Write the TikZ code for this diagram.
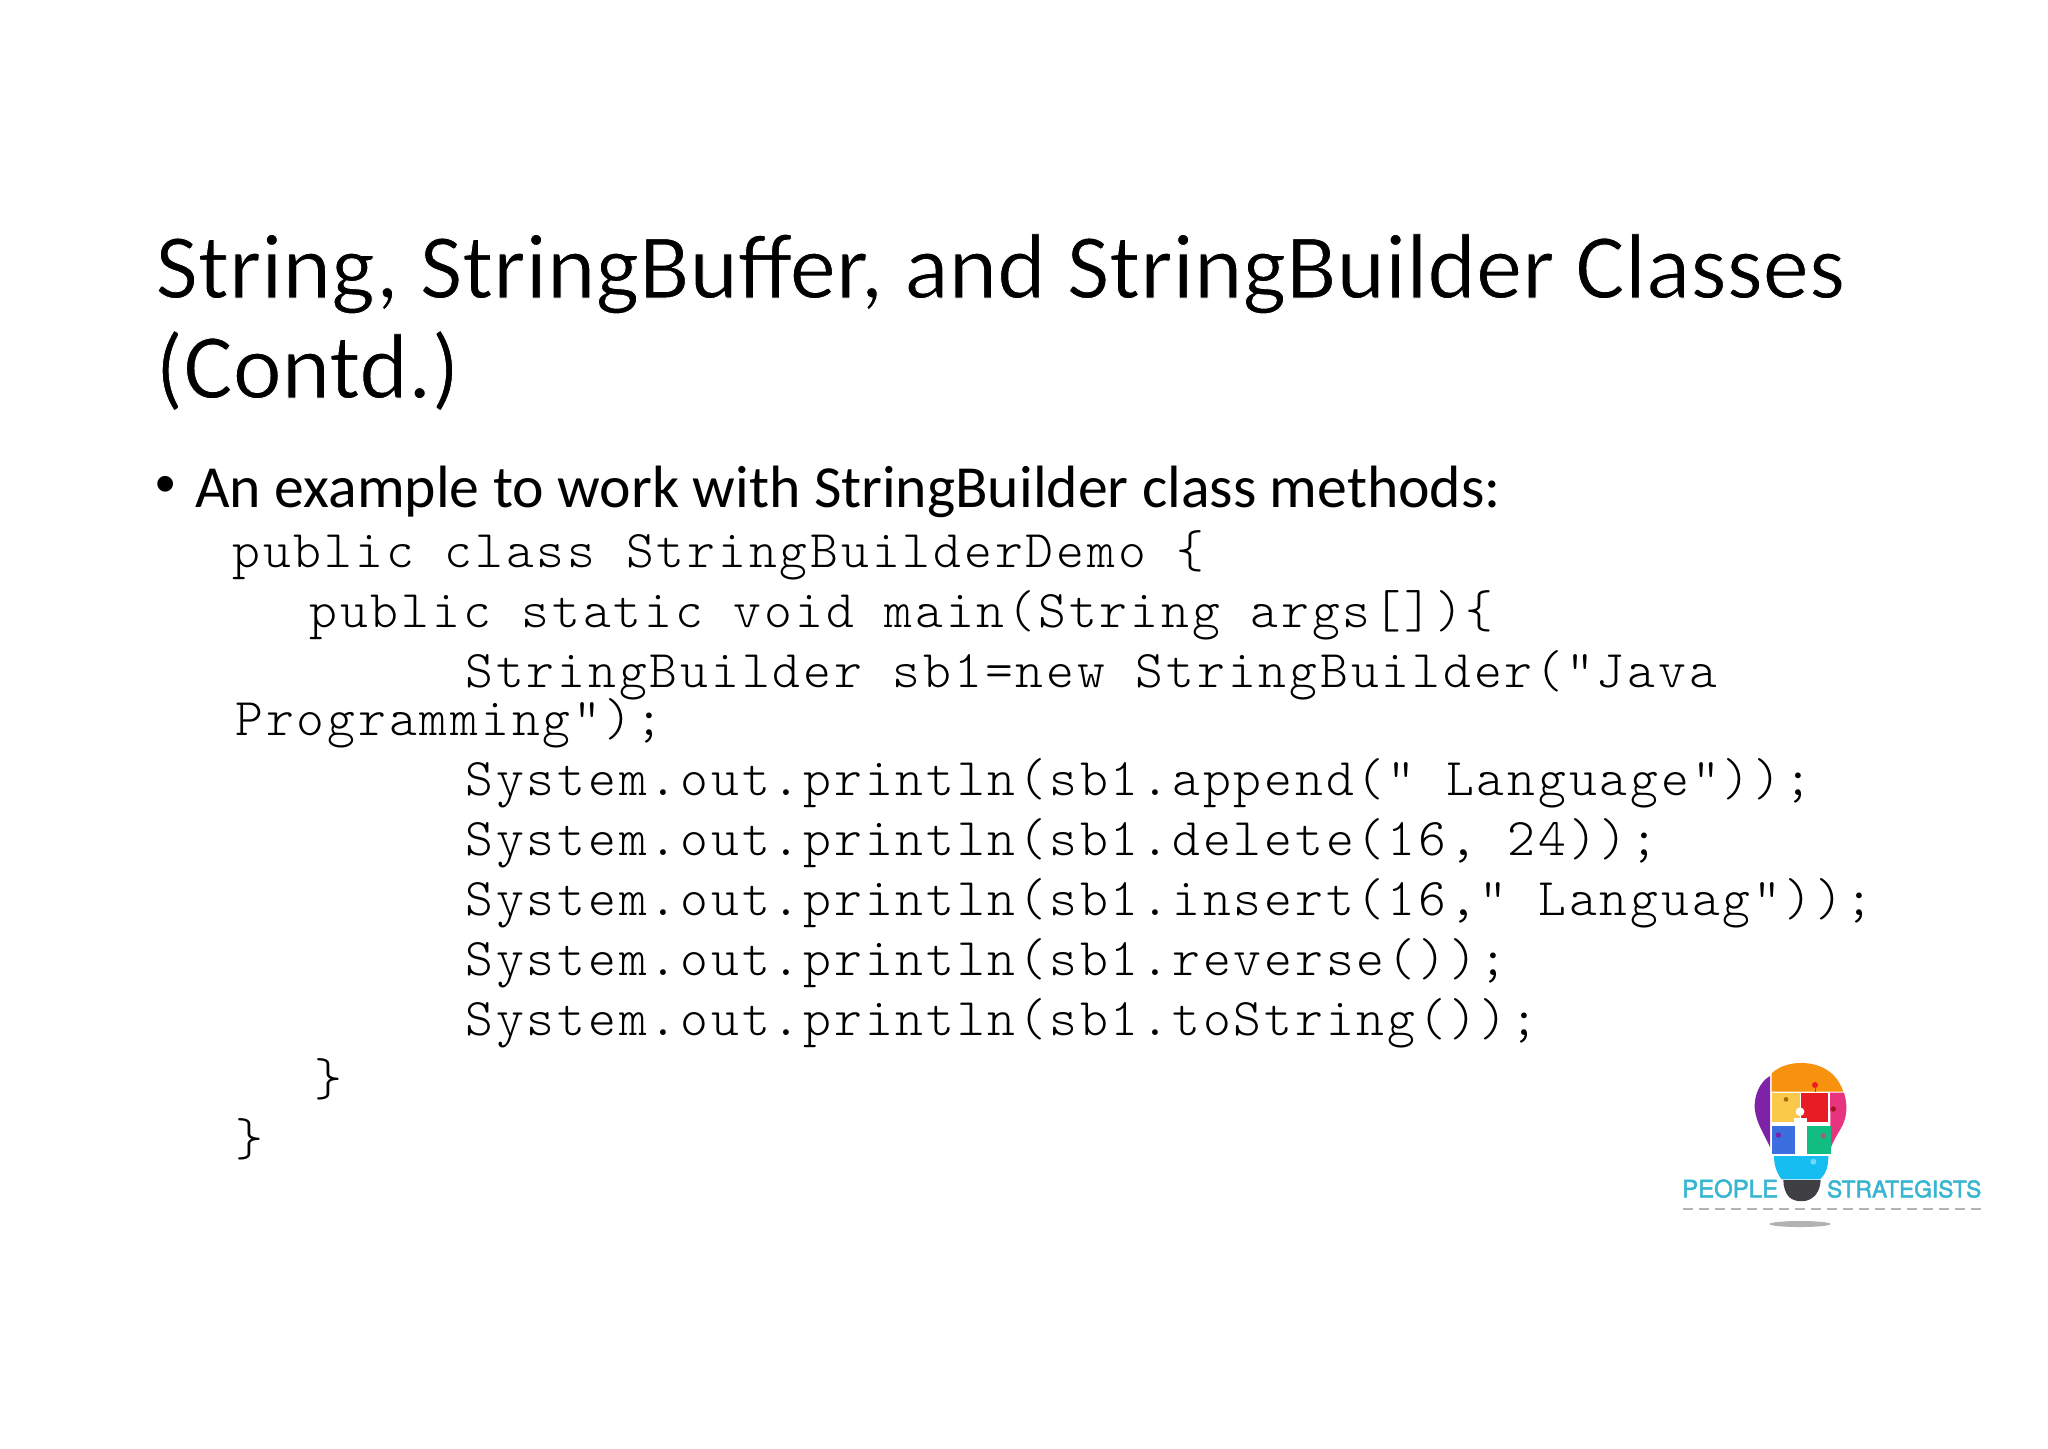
\documentclass[tikz,border=0pt]{standalone}
\usepackage{fontspec}
\setmainfont{Carlito}
\setmonofont[LetterSpace=5.5]{Latin Modern Mono Light}
\setsansfont{TeX Gyre Heros}
\newfontfamily\bulletfont{Liberation Sans}
\newcommand{\thinglyphs}{\special{pdf:code 2 Tr .45 w 1 1 1 RG}}
\newcommand{\logoglyphs}{\special{pdf:code 2 Tr .25 w .22 .71 .82 RG}}
\definecolor{logotext}{HTML}{38B6D0}
\definecolor{bulborange}{HTML}{F7920F}
\definecolor{bulbpurple}{HTML}{7E22A8}
\definecolor{bulbpink}{HTML}{E8347F}
\definecolor{bulbyellow}{HTML}{FBC94A}
\definecolor{bulbred}{HTML}{E81C24}
\definecolor{bulbblue}{HTML}{3B6FE0}
\definecolor{bulbgreen}{HTML}{12BD82}
\definecolor{bulbcyan}{HTML}{16BDF0}
\definecolor{bulbbase}{HTML}{3F3F44}
\tikzset{
    titleline/.style={anchor=base west,inner sep=0pt,font=\fontsize{46.3}{56}\selectfont},
    bodyline/.style={anchor=base west,inner sep=0pt,font=\fontsize{29.87}{36}\selectfont},
    codeline/.style={anchor=base west,inner sep=0pt,text=black,font=\ttfamily\fontsize{26.5}{30}\selectfont},
    logoword/.style={anchor=base west,inner sep=0pt,text=logotext,font=\sffamily\fontsize{12}{14}\selectfont},
    knob/.style={line width=.5pt}
}

\begin{document}
\begin{tikzpicture}[x=.5pt,y=-.5pt]
    \useasboundingbox (0,0) rectangle (2048,1448);
    % title
    \node[titleline] (title1) at (155,298) {\thinglyphs String, StringBuffer, and StringBuilder Classes};
    \node[titleline] (title2) at (155,398) {\thinglyphs (Contd.)};
    % bullet
    \node[bodyline,font=\bulletfont\fontsize{29}{30}\selectfont] (dot) at (155,503) {•};
    \node[bodyline] (intro) at (195,507) {An example to work with StringBuilder class methods:};
    % code
    \node[codeline] (code1) at (232,567) {public class StringBuilderDemo \{};
    \node[codeline] (code2) at (309,627) {public static void main(String args[])\{};
    \node[codeline] (code3) at (465,687) {StringBuilder sb1=new StringBuilder("Java};
    \node[codeline] (code4) at (235,735) {Programming");};
    \node[codeline] (code5) at (465,795) {System.out.println(sb1.append(" Language"));};
    \node[codeline] (code6) at (465,855) {System.out.println(sb1.delete(16, 24));};
    \node[codeline] (code7) at (465,915) {System.out.println(sb1.insert(16," Languag"));};
    \node[codeline] (code8) at (465,975) {System.out.println(sb1.reverse());};
    \node[codeline] (code9) at (465,1035) {System.out.println(sb1.toString());};
    \node[codeline] (close1) at (314,1095) {\}};
    \node[codeline] (close2) at (235,1155) {\}};
    % logo
    \begin{scope}[shift={(1660,1040)},scale=1/3]
        \fill[bulbpurple] (330,108) .. controls (300,125) and (282,165) .. (284,205) .. controls (288,250) and (315,285) .. (330,322) -- cycle;
        \fill[bulbpink] (510,158) -- (552,158) .. controls (562,190) and (562,225) .. (548,255) .. controls (535,280) and (520,300) .. (512,325) -- cycle;
        \fill[bulborange] (335,155) -- (335,100) .. controls (375,60) and (470,55) .. (520,105) .. controls (535,120) and (545,140) .. (550,155) -- cycle;
        \fill[bulbyellow] (335,158) rectangle (420,246);
        \fill[bulbred] (423,160) rectangle (505,247);
        \fill[bulbblue] (335,258) rectangle (405,342);
        \fill[bulbgreen] (440,258) rectangle (512,342);
        \fill[bulbcyan] (342,348) -- (505,348) .. controls (505,375) and (500,400) .. (480,418) -- (365,418) .. controls (350,400) and (342,375) .. (342,348) -- cycle;
        \fill[bulbbase] (370,420) -- (482,420) .. controls (480,445) and (472,465) .. (455,475) .. controls (435,488) and (405,486) .. (388,472) .. controls (376,460) and (370,440) .. (370,420) -- cycle;
        % puzzle knobs and the figure
        \fill[white] (420,215) circle (13);
        \fill[white] (403,233) rectangle (440,258);
        \fill[white] (407,258) rectangle (437,342);
        \fill[bulbred] (465,135) circle (9);
        \draw[bulborange!60!black,knob] (465,155) -- (465,135);
        \fill[bulbred!70!black] (520,207) circle (8);
        \fill[bulbpurple] (355,285) circle (8);
        \fill[bulbpink!70!bulbgreen] (490,287) circle (8);
        \fill[bulbcyan!60!white] (460,365) circle (9);
        \fill[bulborange!70!black] (378,178) circle (7);
        % wordmark
        \node[logoword] (people) at (65,472) {\logoglyphs PEOPLE};
        \node[logoword,font=\sffamily\fontsize{11.4}{14}\selectfont] (strategists) at (500,472) {\logoglyphs STRATEGISTS};
        \draw[black!30,line width=1.2pt,dash pattern=on 5pt off 3pt] (70,507) -- (965,507);
        \fill[black!30] (420,552) ellipse (92 and 9);
    \end{scope}
\end{tikzpicture}
\end{document}
